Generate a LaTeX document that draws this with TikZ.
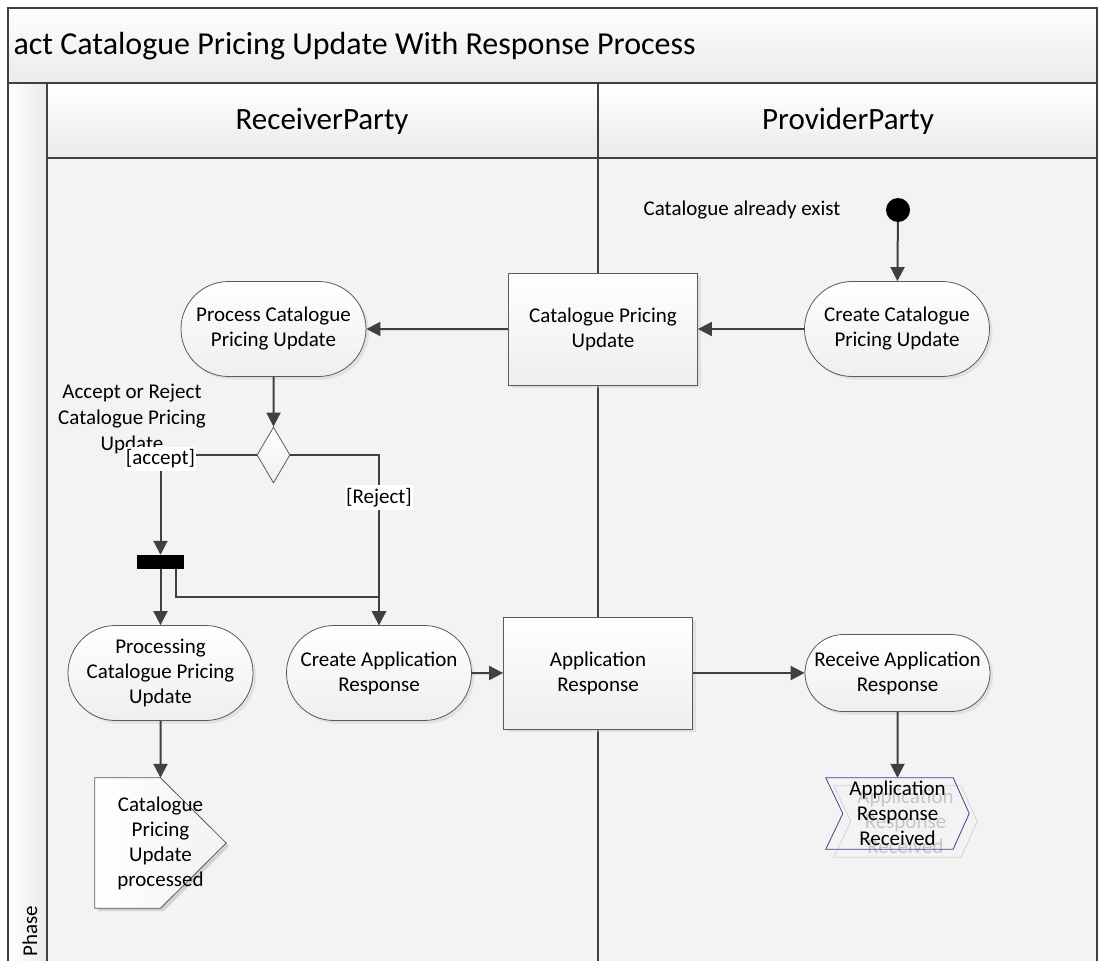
\documentclass[tikz,border=0pt]{standalone}
\usepackage{fontspec}
\setmainfont{Carlito}
\usetikzlibrary{shapes.geometric, shapes.misc, arrows.meta, positioning, calc, shadows}
\definecolor{lineG}{HTML}{404040}
\definecolor{edgeG}{HTML}{5A5A5A}
\definecolor{laneBg}{HTML}{F3F3F3}
\definecolor{bandBot}{HTML}{EAEAEA}
\definecolor{signalB}{HTML}{2F4B8A}

\begin{document}
\begin{tikzpicture}[x=1pt, y=-1pt,
  action/.style={
    rounded rectangle, draw=edgeG, line width=0.8pt,
    top color=white, bottom color=gray!13,
    drop shadow={shadow xshift=3pt, shadow yshift=-3pt, fill=black!18},
    font=\fontsize{21}{25}\selectfont, align=center,
    minimum width=189pt, minimum height=95pt, inner sep=2pt
  },
  objbox/.style={
    rectangle, draw=edgeG, line width=0.8pt,
    top color=white, bottom color=gray!13,
    drop shadow={shadow xshift=3pt, shadow yshift=-3pt, fill=black!18},
    font=\fontsize{21}{25}\selectfont, align=center,
    minimum width=189pt, minimum height=112pt
  },
  decision/.style={
    diamond, draw=edgeG, line width=0.8pt,
    top color=white, bottom color=gray!13,
    minimum width=33pt, minimum height=56pt, inner sep=0pt
  },
  forkbar/.style={fill=black, minimum width=47pt, minimum height=14pt, inner sep=0pt},
  initial/.style={circle, fill=black, minimum size=24pt, inner sep=0pt},
  sigbox/.style={font=\fontsize{21}{25}\selectfont, align=center, inner sep=0pt},
  note/.style={font=\fontsize{21}{26}\selectfont, align=center, inner sep=0pt},
  guard/.style={fill=white, text=black, inner xsep=1pt, inner ysep=3pt, font=\fontsize{21}{25}\selectfont},
  lanetitle/.style={font=\fontsize{31}{37}\selectfont},
  frame/.style={draw=lineG, line width=2pt},
  arr/.style={-{Triangle[length=14pt, width=14pt]}, line width=2pt, lineG},
]
\useasboundingbox (0,0) rectangle (1098,961);

%% ═══ RAHMEN UND BAHNEN ═══
\fill[white] (0,0) rectangle (1098,961);
\shade[top color=white, bottom color=bandBot] (8,8) rectangle (1098,83);
\shade[left color=white, right color=bandBot] (8,83) rectangle (47,961);
\shade[top color=white, bottom color=bandBot] (47,83) rectangle (1098,158);
\fill[laneBg] (47,158) rectangle (1098,961);
\draw[frame] (1097,961) -- (1097,8) -- (8,8) -- (8,961);
\draw[frame] (8,83) -- (1098,83);
\draw[frame] (47,158) -- (1098,158);
\draw[frame] (47,83) -- (47,961);
\draw[frame] (598,83) -- (598,961);

\node[lanetitle, font=\fontsize{32}{38}\selectfont, anchor=west] (title) at (10,46)
  {act Catalogue Pricing Update With Response Process};
\node[lanetitle] (recvlane) at (322,121) {ReceiverParty};
\node[lanetitle] (provlane) at (848,121) {ProviderParty};
\node[font=\fontsize{21}{25}\selectfont, rotate=90, anchor=west, inner sep=1pt] (phase) at (30,958) {Phase};

%% ═══ PROVIDER: START ═══
\node[initial] (init) at (898,210) {};
\node[note] (exist) at (742,210) {Catalogue already exist};

\node[action] (createcat) at (897,329) {Create Catalogue\\Pricing Update};
\draw[arr] (init) -- (createcat);

\node[objbox] (catupd) at (603,329) {Catalogue Pricing\\Update};
\draw[arr] (createcat) -- (catupd);

%% ═══ RECEIVER: PROCESS + DECISION ═══
\node[action] (processcat) at (273.5,329) {Process Catalogue\\Pricing Update};
\draw[arr] (catupd) -- (processcat);

\node[decision] (decide) at (273.5,455) {};
\draw[arr] (processcat) -- (decide);

\node[note] (decidelbl) at (132,419) {Accept or Reject\\Catalogue Pricing\\Update};

\node[forkbar] (fork) at (160.5,562) {};
\node[action] (processing) at (160.5,673) {Processing\\Catalogue Pricing\\Update};
\node[action] (createapp) at (379,673) {Create Application\\Response};

\draw[arr] (decide.west) -| node[guard, pos=0.5, yshift=-4pt] {[accept]} (fork.north);
\draw[arr] (decide.east) -| node[guard, pos=0.625] {[Reject]} (createapp.north);

\coordinate (join) at (379,597);
\draw[arr] (fork) -- (processing);
\draw[arr] ([xshift=15pt]fork.south) |- (join) -- (createapp.north);

%% ═══ APPLICATION RESPONSE ═══
\node[objbox] (appresp) at (598,673) {Application\\Response};
\draw[arr] (createapp) -- (appresp);

\node[action, minimum height=77pt] (receive) at (897.5,673) {Receive Application\\Response};
\draw[arr] (appresp) -- (receive);

%% ═══ SIGNALE ═══
\node[sigbox, minimum width=131pt, minimum height=130pt] (sendsig) at (160.5,843) {};
\fill[black!18] ([shift={(3pt,-3pt)}]sendsig.north west) -- ([shift={(3pt,-3pt)}]sendsig.north)
  -- ([shift={(3pt,-3pt)}]sendsig.east) -- ([shift={(3pt,-3pt)}]sendsig.south)
  -- ([shift={(3pt,-3pt)}]sendsig.south west) -- cycle;
\draw[edgeG, line width=0.8pt, left color=white, right color=gray!10]
  (sendsig.north west) -- (sendsig.north) -- (sendsig.east) -- (sendsig.south)
  -- (sendsig.south west) -- cycle;
\node[sigbox] (sendtxt) at (sendsig) {Catalogue\\Pricing\\Update\\processed};
\draw[arr] (processing) -- (sendsig.north);

\node[sigbox, text=gray!45, minimum width=143pt, minimum height=71pt] (recvghost) at (905.5,821.5)
  {Application\\Response\\Received};
\draw[gray!35, line width=0.8pt] (recvghost.north west) -- ($(recvghost.north east)+(-16,0)$)
  -- (recvghost.east) -- ($(recvghost.south east)+(-16,0)$) -- (recvghost.south west)
  -- ($(recvghost.west)+(17,0)$) -- cycle;

\node[sigbox, minimum width=143pt, minimum height=71pt] (recvsig) at (897.5,813.5)
  {Application\\Response\\Received};
\draw[signalB, line width=0.8pt] (recvsig.north west) -- ($(recvsig.north east)+(-16,0)$)
  -- (recvsig.east) -- ($(recvsig.south east)+(-16,0)$) -- (recvsig.south west)
  -- ($(recvsig.west)+(17,0)$) -- cycle;
\draw[arr] (receive) -- (recvsig.north);

\end{tikzpicture}
\end{document}
